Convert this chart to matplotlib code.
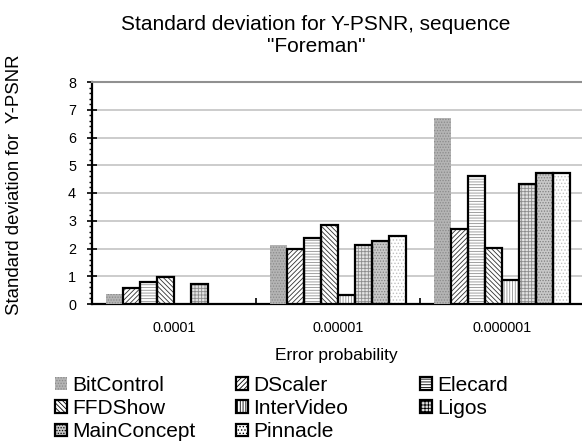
import numpy as np
import matplotlib.pyplot as plt
from matplotlib.patches import Patch

plt.rcParams['font.family'] = ['Liberation Sans', 'DejaVu Sans']
plt.rcParams['hatch.linewidth'] = 0.6

categories = ['0.0001', '0.00001', '0.000001']
decoders = ['BitControl', 'DScaler', 'Elecard', 'FFDShow',
            'InterVideo', 'Ligos', 'MainConcept', 'Pinnacle']

# std dev of Y-PSNR per decoder, one value per error probability (nan = no bar)
bitcontrol = [0.37, 2.11, 6.70]
dscaler = [0.56, 1.97, 2.69]
elecard = [0.79, 2.38, 4.60]
ffdshow = [0.96, 2.86, 2.02]
intervideo = [np.nan, 0.32, 0.88]
ligos = [0.72, 2.14, 4.31]
mainconcept = [np.nan, 2.28, 4.72]
pinnacle = [np.nan, 2.45, 4.72]

values = [bitcontrol, dscaler, elecard, ffdshow,
          intervideo, ligos, mainconcept, pinnacle]

# (facecolor, hatch, hatch colour, edge width)
styles = [('#b4b4b4', '......', '#8a8a8a', 0),
          ('white', '///////', '#303030', 1.6),
          ('white', '------', '#909090', 1.6),
          ('white', '\\\\\\\\\\\\\\', '#303030', 1.6),
          ('white', '||||||', '#909090', 1.6),
          ('#e4e4e4', '+++++', '#8c8c8c', 1.6),
          ('#c8c8c8', '......', '#808080', 1.6),
          ('white', '.....', '#c0c0c0', 1.6)]

fig = plt.figure(figsize=(5.82, 4.41), dpi=100)
ax = fig.add_axes([92/582, 1 - 304/441, 492/582, 222/441])

x = np.arange(len(categories))
w = 0.104
for i, (name, vals) in enumerate(zip(decoders, values)):
    fc, hatch, hc, lw = styles[i]
    ax.bar(x + (i - 3.5) * w, vals, w, color=fc, hatch=hatch,
           edgecolor=hc, linewidth=0, zorder=3)
    if lw:
        ax.bar(x + (i - 3.5) * w, vals, w, fill=False, edgecolor='black',
               linewidth=lw, zorder=4)

ax.set_xlim(-0.5, 2.5)
ax.set_ylim(0, 8)
ax.set_yticks(range(0, 9))
ax.set_yticks(np.arange(0, 8.01, 0.2), minor=True)
ax.yaxis.grid(True, color='#c4c4c4', linewidth=1.2, zorder=0)
ax.set_axisbelow(True)

ax.set_xticks(x)
ax.set_xticklabels(categories, fontsize=10.4)
ax.tick_params(axis='x', length=0, pad=12)
ax.set_xticks([0.5, 1.5], minor=True)
ax.tick_params(axis='x', which='minor', direction='in', length=4, width=1.2)

ax.tick_params(axis='y', which='major', direction='inout', length=7, width=1.2,
               labelsize=10.4, pad=8)
ax.tick_params(axis='y', which='minor', direction='out', length=2.5, width=1)

ax.spines['top'].set_color('#909090')
ax.spines['top'].set_linewidth(1.5)
ax.spines['right'].set_visible(False)
ax.spines['left'].set_linewidth(1.6)
ax.spines['bottom'].set_linewidth(1.6)

ax.set_xlabel('Error probability', fontsize=12.5)
ax.xaxis.set_label_coords((336 - 92) / 492, -(348 - 304) / 222)
ax.set_ylabel('Standard deviation for  Y-PSNR', fontsize=13.4)
ax.yaxis.set_label_coords(-(92 - 23) / 492, (304 - 185) / 222)

fig.text(316/582, 1 - 35/441, 'Standard deviation for Y-PSNR, sequence\n"Foreman"',
         ha='center', va='center', fontsize=15, linespacing=1.2)

handles = []
for i, name in enumerate(decoders):
    fc, hatch, hc, lw = styles[i]
    handles.append(Patch(facecolor=fc, hatch=hatch, edgecolor=hc if lw == 0 else 'black',
                         linewidth=lw, label=name))

columns = [[0, 3, 6], [1, 4, 7], [2, 5]]
col_x = [55, 236, 420]
for cx, idx in zip(col_x, columns):
    fig.legend([handles[k] for k in idx], [decoders[k] for k in idx],
               loc='upper left', bbox_to_anchor=(cx/582, 1 - 376/441),
               frameon=False, fontsize=15, handlelength=0.58,
               handleheight=0.58, handletextpad=0.25, labelspacing=0.2,
               borderpad=0, borderaxespad=0)

fig.savefig('out.png', dpi=100)
